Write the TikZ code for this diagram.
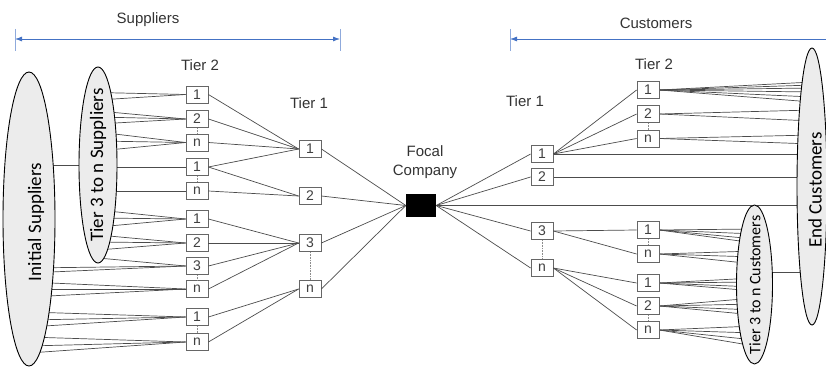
\documentclass[tikz,border=0pt]{standalone}
\usepackage{fontspec}
\setmainfont{Liberation Sans}
\newfontfamily\calib{Carlito}
\usetikzlibrary{arrows.meta,shapes.geometric}
\definecolor{arrblue}{RGB}{68,114,196}
\pgfdeclarelayer{bg}
\pgfsetlayers{bg,main}
\tikzset{
	tier/.style={draw=black!60,fill=white,line width=0.8pt,minimum width=22pt,minimum height=17pt,inner sep=0pt,font=\fontsize{14}{14}\selectfont,text=black!75},
	ell/.style={ellipse,draw,line width=0.9pt,fill=gray!15,inner sep=0pt},
	elltext/.style={rotate=90,inner sep=0pt,font=\calib\fontsize{19}{19}\selectfont},
	lab/.style={font=\fontsize{15}{19}\selectfont,text=black!80},
	link/.style={draw=black!70,line width=0.7pt},
	gap/.style={draw=black!45,densely dotted,line width=0.6pt}
}
\begin{document}
\begin{tikzpicture}
	[x=1pt,y=-1pt]
	\useasboundingbox (0,0) rectangle (826,369);
	
	\node[lab] (sup) at (148,20) {Suppliers};
	\node[lab] (cus) at (656,23) {Customers};
	\node[lab] (st2) at (200,65) {Tier 2};
	\node[lab] (st1) at (309,103) {Tier 1};
	\node[lab] (ct1) at (525,101) {Tier 1};
	\node[lab] (ct2) at (654,64) {Tier 2};
	\node[lab,align=center] (fl) at (425,162) {Focal\\Company};
	
	\coordinate (sl) at (15,39);
	\coordinate (sr) at (340,39);
	\coordinate (cl) at (510,39);
	\coordinate (cr) at (826,39);
	\draw[arrblue,line width=0.8pt,{Latex[length=7pt,width=5pt]}-{Latex[length=7pt,width=5pt]}] (sl) -- (sr);
	\draw[arrblue,line width=0.8pt,{Latex[length=7pt,width=5pt]}-] (cl) -- (cr);
	\foreach \p in {sl,sr,cl}
	\draw[arrblue!60,line width=0.8pt] ([yshift=10pt]\p) -- ([yshift=-12pt]\p);
	
	\node[ell,minimum width=52pt,minimum height=294pt] (e1) at (29,219) {};
	\node[ell,minimum width=38pt,minimum height=196pt] (e2) at (98,165) {};
	\node[ell,minimum width=36pt,minimum height=159pt] (e3) at (754.5,284.5) {};
	\node[ell,minimum width=30pt,minimum height=277pt] (e4) at (812,186.5) {};
	\node[elltext] (e1t) at (36,222) {Initial Suppliers};
	\node[elltext] (e2t) at (98,165) {Tier 3 to n Suppliers};
	\node[elltext] (e4t) at (815,190) {End Customers};
	\node[elltext,font=\calib\fontsize{16}{16}\selectfont] (e3t) at (755,285) {Tier 3 to n Customers};
	
	\foreach \n/\y/\t in {a1/94.5/1,a2/119/2,a3/142.5/n,a4/167/1,a5/191/n,a6/219/1,a7/243/2,a8/266/3,a9/289/n,a10/317/1,a11/342/n}
	\node[tier] (\n) at (197,\y) {\t};
	\foreach \n/\y/\t in {b1/149/1,b2/196/2,b3/243/3,b4/289/n}
	\node[tier] (\n) at (310,\y) {\t};
	\node[fill=black,minimum width=30pt,minimum height=23pt,inner sep=0pt] (f) at (421,205.5) {};
	\foreach \n/\y/\t in {c1/154/1,c2/177/2,c3/231/3,c4/268/n}
	\node[tier] (\n) at (542,\y) {\t};
	\foreach \n/\y/\t in {d1/90/1,d2/114/2,d3/138.5/n,d4/230/1,d5/254/n,d6/283/1,d7/306/2,d8/330/n}
	\node[tier] (\n) at (648,\y) {\t};
	
	\begin{pgfonlayer}{bg}
	\draw[link] (e2.center) -- (e2.center -| e1.center);
	\coordinate (k) at ([yshift=12.5pt]e3.center);
	\draw[link] (k) -- (k -| e4.center);
	\foreach \to/\y in {a1/92.5,a1/100,a2/111,a2/117,a2/124,a3/132,a3/141,a3/151,a6/210,a6/218,a6/227,a7/235,a7/242,a7/250,a8/258}
	\draw[link] (\to.west) -- (e2.center |- 0,\y);
	\foreach \to/\y in {a8/268,a8/273,a9/282,a9/289,a9/297,a10/312,a10/320,a10/327,a11/337,a11/346,a11/353}
	\draw[link] (\to.west) -- (e1.center |- 0,\y);
	\foreach \from/\y in {d1/82,d1/85,d1/88,d1/92,d1/97,d1/102,d2/110,d2/121,d3/135,d3/144}
	\draw[link] (\from.east) -- (e4.center |- 0,\y);
	\foreach \from/\y in {d4/229,d4/234,d4/239,d4/243,d5/251,d5/257,d5/264,d6/278,d6/282,d6/287,d6/291,d7/298,d7/304,d7/310,d7/315,d8/326,d8/333,d8/340,d8/346}
	\draw[link] (\from.east) -- (e3.center |- 0,\y);
	\foreach \from in {a4,a5}
	\draw[link] (\from.west) -- (\from.west -| e2.center);
	\foreach \from in {c1,c2,f}
	\draw[link] (\from.east) -- (\from.east -| e4.center);
	\end{pgfonlayer}
	
	\foreach \from/\to in {a1/b1,a2/b1,a3/b1,a4/b1,a4/b2,a5/b2,a6/b3,a7/b3,a8/b3,a9/b3,a10/b4,a11/b4, b1/f,b2/f,b3/f,b4/f, c1/d1,c1/d2,c1/d3,c3/d4,c3/d5,c4/d6,c4/d7,c4/d8}
	\draw[link] (\from.east) -- (\to.west);
	\foreach \to in {c1,c2,c3,c4}
	\draw[link] (f.east) -- (\to.west);
	\foreach \from/\to in {a2/a3,a4/a5,a8/a9,a10/a11,b3/b4,c3/c4,d2/d3,d4/d5,d7/d8}
	\draw[gap] (\from.south) -- (\to.north);
\end{tikzpicture}
\end{document}
